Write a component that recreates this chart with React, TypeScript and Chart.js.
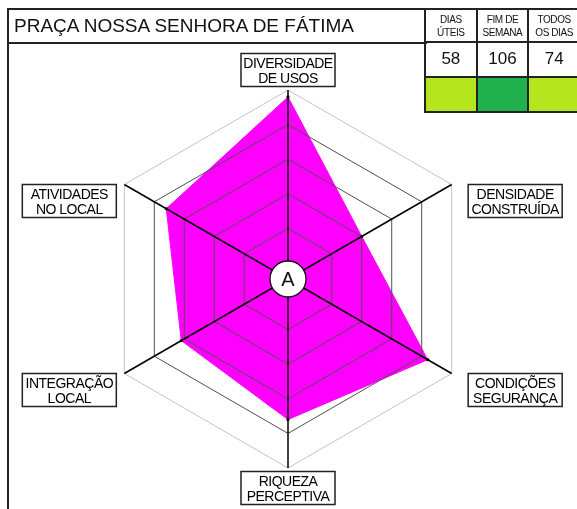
import React, { useEffect, useRef } from 'react';
import { Chart, registerables } from 'chart.js';

Chart.register(...registerables);

const TITLE = 'PRAÇA NOSSA SENHORA DE FÁTIMA';
const CENTER_LABEL = 'A';

const categories: string[][] = [
  ['DIVERSIDADE', 'DE USOS'],
  ['DENSIDADE', 'CONSTRUÍDA'],
  ['CONDIÇÕES', 'SEGURANÇA'],
  ['RIQUEZA', 'PERCEPTIVA'],
  ['INTEGRAÇÃO', 'LOCAL'],
  ['ATIVIDADES', 'NO LOCAL'],
];
const values = [4.8, 2.0, 4.2, 3.6, 3.1, 3.6];
const ringTicks = [1, 2, 3, 4, 5];
const SCALE_MIN = -0.46;
const SCALE_MAX = 5;

const periodHeaders: string[][] = [
  ['DIAS', 'ÚTEIS'],
  ['FIM DE', 'SEMANA'],
  ['TODOS', 'OS DIAS'],
];
const periodValues = [58, 106, 74];
const periodColors = ['#b5e61d', '#22b14c', '#b5e61d'];

const FONT = '"Liberation Sans", Arial, sans-serif';
const LINE = '#222';

const colX = [425, 476.7, 528.3, 580];
const rowY = [9, 42.3, 76.7, 111.7];

export default function App() {
  const ref = useRef<HTMLCanvasElement | null>(null);

  useEffect(() => {
    const canvas = ref.current;
    if (!canvas) return;

    const labelPlugin = {
      id: 'boxLabels',
      afterDraw(chart: any) {
        const scale = chart.scales.r;
        const ctx = chart.ctx as CanvasRenderingContext2D;
        ctx.save();
        // center badge
        ctx.beginPath();
        ctx.arc(scale.xCenter, scale.yCenter, 18, 0, Math.PI * 2);
        ctx.fillStyle = '#fff';
        ctx.fill();
        ctx.lineWidth = 1.3;
        ctx.strokeStyle = '#111';
        ctx.stroke();
        ctx.fillStyle = '#111';
        ctx.font = `20px ${FONT}`;
        ctx.textAlign = 'center';
        ctx.textBaseline = 'middle';
        ctx.fillText(CENTER_LABEL, scale.xCenter, scale.yCenter + 1);

        const w = 94;
        const h = 33;
        categories.forEach((lines, i) => {
          const p = scale.getPointPosition(i, scale.drawingArea);
          const dx = p.x - scale.xCenter;
          let x: number;
          let y: number;
          if (Math.abs(dx) < 1) {
            x = p.x - w / 2;
            y = p.y < scale.yCenter ? p.y - 3.5 - h : p.y + 3.5;
          } else if (dx > 0) {
            x = p.x + 16.5;
            y = p.y;
          } else {
            x = p.x - 8 - w;
            y = p.y;
          }
          ctx.fillStyle = '#fff';
          ctx.fillRect(x, y, w, h);
          ctx.strokeStyle = '#222';
          ctx.lineWidth = 1.5;
          ctx.strokeRect(x, y, w, h);
          ctx.fillStyle = '#000';
          ctx.font = `14px ${FONT}`;
          (ctx as any).letterSpacing = '-0.5px';
          ctx.textAlign = 'center';
          ctx.textBaseline = 'middle';
          ctx.fillText(lines[0], x + w / 2, y + 10.5);
          ctx.fillText(lines[1], x + w / 2, y + 26);
        });
        ctx.restore();
      },
    };

    const chart = new Chart(canvas, {
      type: 'radar',
      data: {
        labels: categories.map((c) => c.join(' ')),
        datasets: [
          {
            data: values,
            backgroundColor: '#ff00ff',
            borderColor: '#ff00ff',
            borderWidth: 1,
            fill: true,
            pointRadius: 1.6,
            pointBackgroundColor: '#000',
            pointBorderWidth: 0,
          },
        ],
      },
      options: {
        responsive: false,
        animation: false,
        devicePixelRatio: 1,
        layout: { padding: { left: 99, right: 100, top: 90, bottom: 41 } },
        plugins: { legend: { display: false }, tooltip: { enabled: false } },
        elements: { line: { tension: 0 } },
        scales: {
          r: {
            min: SCALE_MIN,
            max: SCALE_MAX,
            afterBuildTicks: (scale: any) => {
              scale.ticks = ringTicks.map((v) => ({ value: v }));
            },
            ticks: { display: false },
            pointLabels: { display: false },
            grid: {
              z: 1,
              color: (ctx: any) => (ctx.tick && ctx.tick.value === SCALE_MAX ? '#c4c4c4' : '#505050'),
              lineWidth: 1,
            },
            angleLines: { color: '#000', lineWidth: 1.5 },
          },
        },
      },
      plugins: [labelPlugin],
    } as any);

    return () => chart.destroy();
  }, []);

  const cells: React.ReactNode[] = [];
  for (let j = 0; j < 3; j++) {
    for (let r = 0; r < 3; r++) {
      const left = colX[j] - 1;
      const top = rowY[r] - 1;
      const width = colX[j + 1] - colX[j] + 2;
      const height = rowY[r + 1] - rowY[r] + 2;
      let content: React.ReactNode = null;
      let bg = 'transparent';
      if (r === 0) {
        content = (
          <div style={{ fontSize: 10, lineHeight: '13px', letterSpacing: '-0.4px', textAlign: 'center', color: '#111' }}>
            {periodHeaders[j][0]}
            <br />
            {periodHeaders[j][1]}
          </div>
        );
      } else if (r === 1) {
        content = <div style={{ fontSize: 17, color: '#111' }}>{periodValues[j]}</div>;
      } else {
        bg = periodColors[j];
      }
      cells.push(
        <div
          key={`${j}-${r}`}
          style={{
            position: 'absolute',
            left,
            top,
            width,
            height,
            boxSizing: 'border-box',
            border: `2px solid ${LINE}`,
            background: bg,
            display: 'flex',
            alignItems: 'center',
            justifyContent: 'center',
            fontFamily: FONT,
          }}
        >
          {content}
        </div>
      );
    }
  }

  return (
    <div
      style={{
        position: 'absolute',
        left: 0,
        top: 0,
        width: 577,
        height: 509,
        overflow: 'hidden',
        background: '#fff',
        fontFamily: FONT,
      }}
    >
      <canvas ref={ref} width={577} height={509} style={{ position: 'absolute', left: 0, top: 0, width: 577, height: 509 }} />
      <div
        style={{
          position: 'absolute',
          left: 7,
          top: 8,
          width: 420,
          height: 36,
          boxSizing: 'border-box',
          borderTop: `2px solid ${LINE}`,
          borderLeft: `2px solid ${LINE}`,
          borderBottom: `2px solid ${LINE}`,
          display: 'flex',
          alignItems: 'center',
          paddingLeft: 5,
          fontSize: 19,
          color: '#111',
          whiteSpace: 'nowrap',
        }}
      >
        {TITLE}
      </div>
      <div style={{ position: 'absolute', left: 7, top: 42, width: 2, height: 467, background: LINE }} />
      {cells}
    </div>
  );
}
